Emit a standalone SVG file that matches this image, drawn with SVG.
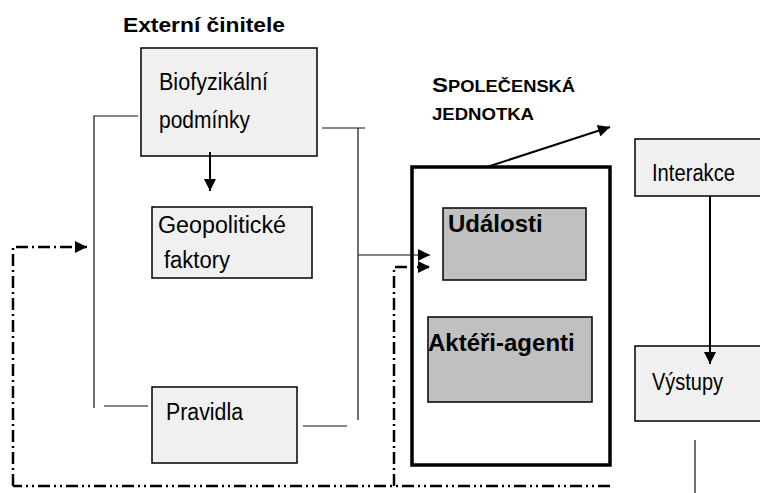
<svg xmlns="http://www.w3.org/2000/svg" width="760" height="493" viewBox="0 0 760 493">
<style>
.box{fill:#f0f0f0;stroke:#000;stroke-width:1.5}
.dark{fill:#c0c0c0;stroke:#000;stroke-width:1.5}
.t{font-family:"Liberation Sans",Arial,sans-serif;font-size:23px;fill:#000}
.b{font-family:"Liberation Sans",Arial,sans-serif;font-weight:bold;fill:#000}
.ln{fill:none;stroke:#111;stroke-width:1.2}
.arr{fill:none;stroke:#000;stroke-width:2}
.dd{fill:none;stroke:#000;stroke-width:2.5;stroke-dasharray:12 4 2 4}
.ddd{fill:none;stroke:#000;stroke-width:2.5;stroke-dasharray:12 4 2 4 2 4}
</style>
<defs>
<marker id="ah" viewBox="0 0 10 10" refX="10" refY="5" markerWidth="13" markerHeight="12" markerUnits="userSpaceOnUse" orient="auto">
<path d="M0 0L10 5L0 10z" fill="#000"/>
</marker>
</defs>
<text class="b" x="123" y="32" font-size="21" textLength="162" lengthAdjust="spacingAndGlyphs">Externí činitele</text>
<g id="biofyzikalni">
<rect class="box" x="141" y="48" width="176" height="108"/>
<text class="t" x="159" y="90" textLength="109" lengthAdjust="spacingAndGlyphs">Biofyzikální</text>
<text class="t" x="159" y="128" textLength="91" lengthAdjust="spacingAndGlyphs">podmínky</text>
</g>
<g id="geopoliticke">
<rect class="box" x="152" y="207" width="160" height="71"/>
<text class="t" x="158" y="233" textLength="128" lengthAdjust="spacingAndGlyphs">Geopolitické</text>
<text class="t" x="164" y="268" textLength="66" lengthAdjust="spacingAndGlyphs">faktory</text>
</g>
<g id="pravidla">
<rect class="box" x="152" y="387" width="145" height="76"/>
<text class="t" x="166" y="420" textLength="77" lengthAdjust="spacingAndGlyphs">Pravidla</text>
</g>
<g id="spolecenska">
<rect x="412" y="167" width="198" height="298" fill="none" stroke="#000" stroke-width="3.5"/>
<text class="b" x="432" y="92" textLength="143" lengthAdjust="spacingAndGlyphs"><tspan font-size="21">S</tspan><tspan font-size="16">POLEČENSKÁ</tspan></text>
<text class="b" x="432" y="120" font-size="16" textLength="102" lengthAdjust="spacingAndGlyphs">JEDNOTKA</text>
</g>
<g id="udalosti">
<rect class="dark" x="443" y="208" width="143" height="72"/>
<text class="b" x="448" y="232" font-size="24">Události</text>
</g>
<g id="akteri">
<rect class="dark" x="428" y="317" width="164" height="85"/>
<text class="b" x="428" y="351" font-size="24">Aktéři-agenti</text>
</g>
<g id="interakce">
<rect class="box" x="635" y="139" width="130" height="57"/>
<text class="t" x="652" y="181" font-size="24" textLength="83" lengthAdjust="spacingAndGlyphs">Interakce</text>
</g>
<g id="vystupy">
<rect class="box" x="635" y="346" width="130" height="75"/>
<text class="t" x="652" y="390" font-size="24" textLength="71" lengthAdjust="spacingAndGlyphs">Výstupy</text>
</g>
<g id="connectors">
<path class="arr" d="M210 152V191" marker-end="url(#ah)"/>
<path class="ln" d="M138 116H94V408M104 406H148"/>
<path class="ln" d="M322 128H365M358 128V420M303 426H347"/>
<path class="ln" d="M358 255H430" marker-end="url(#ah)"/>
<path class="ddd" d="M610 486H13"/>
<path class="dd" d="M13 486V247H87" marker-end="url(#ah)"/>
<path class="dd" d="M394 486V267H430" marker-end="url(#ah)"/>
<path class="arr" d="M487 167L610 127" stroke-width="2.5" marker-end="url(#ah)"/>
<path class="arr" d="M710 196V364" marker-end="url(#ah)"/>
<path class="ln" d="M695 440V493"/>
</g>
</svg>
